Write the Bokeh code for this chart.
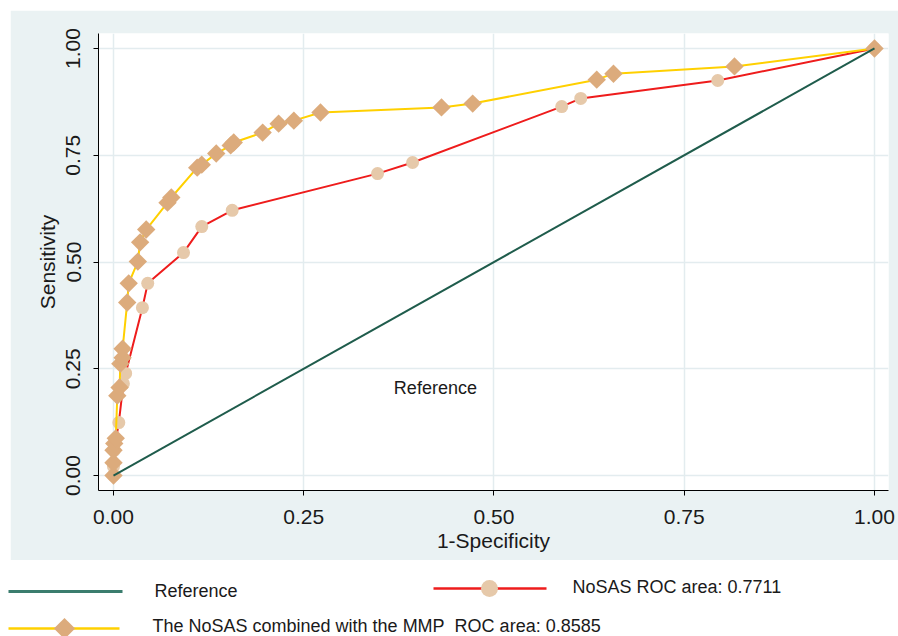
import numpy as np
from bokeh.plotting import figure
from bokeh.models import Range1d, FixedTicker
from bokeh.core.properties import value
from bokeh.embed import file_html
from bokeh.resources import INLINE

# ---------------- data ----------------
nosas_fpr = [0.000, 0.000, 0.001, 0.007, 0.013, 0.016, 0.038, 0.045, 0.092, 0.116,
             0.156, 0.347, 0.393, 0.589, 0.614, 0.794, 1.000]
nosas_tpr = [0.000, 0.021, 0.059, 0.124, 0.215, 0.239, 0.393, 0.450, 0.522, 0.583,
             0.621, 0.707, 0.733, 0.864, 0.883, 0.925, 1.000]

comb_fpr = [0.000, 0.000, 0.000, 0.001, 0.003, 0.005, 0.008, 0.009, 0.012, 0.012,
            0.018, 0.020, 0.032, 0.035, 0.043, 0.071, 0.076, 0.110, 0.116, 0.135,
            0.154, 0.158, 0.196, 0.217, 0.237, 0.272, 0.431, 0.472, 0.635, 0.657,
            0.816, 1.000]
comb_tpr = [0.000, 0.030, 0.059, 0.075, 0.087, 0.187, 0.206, 0.262, 0.276, 0.297,
            0.405, 0.450, 0.501, 0.546, 0.576, 0.639, 0.651, 0.721, 0.728, 0.754,
            0.773, 0.780, 0.803, 0.824, 0.831, 0.850, 0.862, 0.871, 0.927, 0.941,
            0.958, 1.000]

ref_x = [0.0, 1.0]
ref_y = [0.0, 1.0]

tick_vals = [0.0, 0.25, 0.5, 0.75, 1.0]
tick_labels = ["0.00", "0.25", "0.50", "0.75", "1.00"]

legend_labels = ["Reference",
                 "NoSAS ROC area: 0.7711",
                 "The NoSAS combined with the MMP\u00a0 ROC area: 0.8585"]

# ---------------- styles ----------------
FONT = "Liberation Sans"
BG = "#eaf2f3"
TEAL = "#1f5c4c"
RED = "#ee1c1c"
YELLOW = "#ffd000"
CIRCLE = "#e6c9aa"
DIAMOND = "#dcab7c"
TXT = "#1a1a1a"

p = figure(width=888, height=550,
           x_range=Range1d(-0.0197, 1.0184), y_range=Range1d(-0.0351, 1.0351),
           output_backend="svg", toolbar_location=None,
           min_border_left=88, min_border_right=10, min_border_top=23, min_border_bottom=70,
           background_fill_color="white", border_fill_color=BG,
           outline_line_color=None, margin=(10, 0, 0, 10))

for ax in (p.xaxis[0], p.yaxis[0]):
    ax.ticker = FixedTicker(ticks=tick_vals)
    ax.major_label_overrides = {v: l for v, l in zip(tick_vals, tick_labels)}
    ax.axis_line_color = "black"
    ax.axis_line_width = 1
    ax.major_tick_in = 0
    ax.major_tick_out = 5
    ax.major_tick_line_color = "black"
    ax.minor_tick_line_color = None
    ax.major_label_text_font = FONT
    ax.major_label_text_font_size = "21px"
    ax.major_label_text_color = TXT
    ax.axis_label_text_font = FONT
    ax.axis_label_text_font_size = "21px"
    ax.axis_label_text_font_style = "normal"
    ax.axis_label_text_color = TXT

p.xaxis.axis_label = "1-Specificity"
p.yaxis.axis_label = "Sensitivity"
p.yaxis.major_label_orientation = "vertical"
p.xaxis.major_label_standoff = 14
p.yaxis.major_label_standoff = 13
p.xaxis.axis_label_standoff = 2
p.yaxis.axis_label_standoff = 5

for g in (p.xgrid[0], p.ygrid[0]):
    g.ticker = FixedTicker(ticks=tick_vals)
    g.grid_line_color = "#e3ecef"
    g.grid_line_width = 1.5

# NoSAS curve
p.line(nosas_fpr, nosas_tpr, line_color=RED, line_width=2)
p.scatter(nosas_fpr, nosas_tpr, marker="circle", size=13,
          fill_color=CIRCLE, line_color=None)
# Combined curve
p.line(comb_fpr, comb_tpr, line_color=YELLOW, line_width=2)
p.scatter(comb_fpr, comb_tpr, marker="square", angle=np.pi / 4, size=13,
          fill_color=DIAMOND, line_color=None)
# Reference line
p.line(ref_x, ref_y, line_color=TEAL, line_width=2)
p.text(x=[0.423], y=[0.204], text=["Reference"], text_font=value(FONT),
       text_font_size="18px", text_align="center", text_baseline="middle",
       text_color=TXT)

# ---------------- legend panel (separate root, pixel coordinates) ----------------
leg = figure(width=898, height=76, x_range=Range1d(0, 898), y_range=Range1d(76, 0),
             output_backend="svg", toolbar_location=None, min_border=0,
             x_axis_location=None, y_axis_location=None, outline_line_color=None,
             background_fill_color="white", border_fill_color="white")
leg.grid.visible = False

# Reference entry
leg.line([8, 122], [31, 31], line_color="#3b7d6e", line_width=3)
leg.text(x=[154], y=[30], text=[legend_labels[0]], text_font=value(FONT),
         text_font_size="18px", text_baseline="middle", text_color=TXT)
# NoSAS entry
leg.line([433, 546], [28, 28], line_color=RED, line_width=2.5)
leg.scatter([489], [28], marker="circle", size=17, fill_color=CIRCLE, line_color=None)
leg.text(x=[572], y=[26], text=[legend_labels[1]], text_font=value(FONT),
         text_font_size="18px", text_baseline="middle", text_color=TXT)
# Combined entry
leg.line([8, 119], [68, 68], line_color=YELLOW, line_width=2.5)
leg.scatter([64], [68], marker="square", angle=np.pi / 4, size=15,
            fill_color=DIAMOND, line_color=None)
leg.text(x=[152], y=[65], text=[legend_labels[2]], text_font=value(FONT),
         text_font_size="18px", text_baseline="middle", text_color=TXT)

open("out.html", "w").write(file_html([p, leg], INLINE))
